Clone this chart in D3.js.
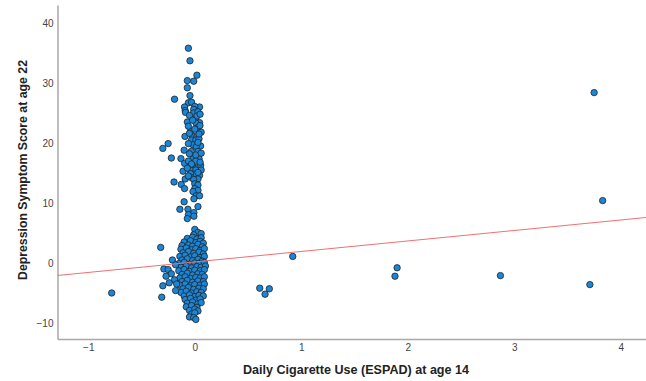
<!DOCTYPE html>
<html>
<head>
<meta charset="utf-8">
<script src="https://cdn.jsdelivr.net/npm/d3@7"></script>
<style>
  body { margin: 0; background: #fff; }
  svg { display: block; }
  .tick text { font-family: "Liberation Sans", Arial, sans-serif; font-size: 10px; fill: #444; }
  .title { font-family: "Liberation Sans", Arial, sans-serif; font-size: 13px; font-weight: bold; fill: #222; }
</style>
</head>
<body>
<svg id="chart"></svg>
<script>
// Axis ticks
const xTicks = [-1, 0, 1, 2, 3, 4];
const yTicks = [-10, 0, 10, 20, 30, 40];

// Fit line: [intercept, slope]
const fitLine = [0.172, 1.749];

// Points [cigarette use, depression score]
const outliers = [
  [-0.78, -5.0], [0.61, -4.2], [0.70, -4.3], [0.66, -5.2], [0.92, 1.1],
  [1.90, -0.8], [1.88, -2.2], [2.87, -2.1], [3.71, -3.6], [3.75, 28.4], [3.83, 10.4]
];

const upperColumn = [
  [-0.06, 35.8], [-0.045, 33.7], [0.02, 31.3], [-0.07, 30.4], [-0.01, 30.3],
  [-0.07, 29.2], [-0.045, 27.9], [-0.19, 27.3], [-0.06, 26.7], [-0.03, 26.8],
  [-0.096, 26.0], [0.045, 26.0], [0.0, 26.1], [-0.09, 25.4], [-0.01, 25.6],
  [-0.087, 25.1], [-0.012, 25.0], [0.03, 25.2], [-0.07, 23.5], [0.008, 24.0],
  [0.045, 23.4], [0.012, 23.3], [0.03, 22.6], [0.049, 22.9], [-0.039, 22.0],
  [-0.092, 21.1], [-0.017, 21.1], [0.021, 21.1], [-0.03, 20.5], [0.01, 20.5],
  [0.04, 20.7], [-0.017, 19.7], [0.055, 19.5], [0.014, 19.4], [-0.25, 19.9],
  [-0.30, 19.1], [-0.10, 18.8], [-0.033, 18.6], [0.03, 18.6], [-0.017, 17.4],
  [0.04, 17.4], [0.008, 17.0], [-0.22, 17.5], [-0.13, 17.4], [-0.096, 16.6],
  [-0.017, 16.0], [0.03, 15.9], [0.055, 16.3], [-0.04, 15.5], [0.01, 15.5],
  [0.06, 15.5], [-0.11, 15.3], [0.0, 14.8], [-0.04, 14.9], [0.045, 14.6],
  [-0.04, 14.3], [0.03, 14.0], [-0.09, 14.0], [-0.01, 13.9], [-0.195, 13.5],
  [-0.127, 13.1], [-0.096, 12.4], [0.0, 13.2], [0.03, 13.0], [0.0, 12.4],
  [0.03, 12.1], [-0.017, 11.9], [0.014, 11.2], [0.045, 11.2], [-0.008, 10.7],
  [-0.10, 10.2], [0.03, 9.4], [-0.064, 8.95], [-0.14, 8.95], [-0.008, 8.4],
  [-0.06, 8.05], [-0.008, 7.8], [-0.07, 7.4],
  [-0.05, 24.6], [0.02, 24.5], [0.05, 24.8], [-0.02, 23.8], [-0.06, 22.8],
  [0.0, 22.3], [0.06, 21.8], [-0.05, 21.6], [0.04, 21.5], [-0.06, 19.9],
  [0.03, 20.1], [-0.05, 18.2], [0.01, 18.0], [0.06, 18.3], [-0.06, 17.0],
  [0.05, 16.8], [-0.03, 16.5], [-0.07, 15.8], [0.03, 15.1], [-0.06, 14.5]
];

const lowerCluster = [
  [0.00, 5.6], [0.03, 5.1], [-0.01, 4.7], [0.06, 4.9],
  [-0.07, 4.1], [-0.02, 4.3], [0.02, 4.0], [0.06, 4.2],
  [-0.10, 3.5], [-0.04, 3.7], [0.01, 3.4], [0.05, 3.6], [0.08, 3.3],
  [-0.12, 2.9], [-0.06, 3.0], [-0.02, 2.8], [0.03, 3.1], [0.07, 2.7],
  [-0.13, 2.3], [-0.08, 2.5], [-0.03, 2.2], [0.01, 2.4], [0.05, 2.1], [0.09, 2.4],
  [-0.11, 1.7], [-0.06, 1.9], [-0.01, 1.6], [0.04, 1.8], [0.08, 1.5],
  [-0.14, 1.1], [-0.09, 1.3], [-0.04, 1.0], [0.00, 1.2], [0.05, 0.9], [0.09, 1.1],
  [-0.12, 0.5], [-0.07, 0.7], [-0.02, 0.4], [0.03, 0.6], [0.07, 0.3],
  [-0.15, -0.1], [-0.10, 0.1], [-0.05, -0.2], [0.00, 0.0], [0.04, -0.1], [0.09, 0.1],
  [-0.13, -0.7], [-0.08, -0.5], [-0.03, -0.8], [0.02, -0.6], [0.06, -0.7], [0.10, -0.5],
  [-0.15, -1.3], [-0.10, -1.1], [-0.05, -1.4], [0.00, -1.2], [0.05, -1.3], [0.09, -1.1],
  [-0.12, -1.9], [-0.07, -1.7], [-0.02, -2.0], [0.03, -1.8], [0.07, -1.9],
  [-0.14, -2.5], [-0.09, -2.3], [-0.04, -2.6], [0.01, -2.4], [0.05, -2.5], [0.09, -2.3],
  [-0.12, -3.1], [-0.07, -2.9], [-0.02, -3.2], [0.03, -3.0], [0.08, -3.1],
  [-0.14, -3.7], [-0.09, -3.5], [-0.04, -3.8], [0.00, -3.6], [0.05, -3.7], [0.09, -3.5],
  [-0.11, -4.3], [-0.06, -4.1], [-0.01, -4.4], [0.04, -4.2], [0.08, -4.3],
  [-0.13, -4.9], [-0.08, -4.7], [-0.03, -5.0], [0.02, -4.8], [0.06, -4.9],
  [-0.10, -5.5], [-0.05, -5.3], [0.00, -5.6], [0.04, -5.4], [0.08, -5.5],
  [-0.09, -6.1], [-0.04, -5.9], [0.01, -6.2], [0.05, -6.0],
  [-0.07, -6.7], [-0.02, -6.5], [0.03, -6.8], [0.06, -6.6],
  [-0.08, -7.3], [-0.03, -7.1], [0.02, -7.4],
  [-0.05, -7.9], [0.00, -7.7], [0.03, -8.0],
  [-0.03, -8.5], [0.00, -8.3],
  [-0.05, -9.0], [-0.01, -9.1], [0.01, -9.4]
];

const leftStragglers = [
  [-0.32, 2.6], [-0.21, 0.5], [-0.18, -0.3], [-0.29, -1.0], [-0.25, -1.1],
  [-0.22, -1.8], [-0.27, -2.2], [-0.19, -2.8], [-0.24, -3.3], [-0.30, -3.8],
  [-0.17, -3.5], [-0.31, -5.7], [-0.18, -4.6]
];

const points = [...upperColumn, ...lowerCluster, ...leftStragglers, ...outliers];

// Chart dimensions
const W = 646, H = 381;
const plot = { left: 57.5, right: 646, top: 5, bottom: 339 };

const svg = d3.select('#chart')
  .attr('width', W)
  .attr('height', H);

// Scales
const xScale = d3.scaleLinear()
  .domain([-1.289, 4.237])
  .range([plot.left, plot.right]);

const yScale = d3.scaleLinear()
  .domain([-12.67, 43])
  .range([plot.bottom, plot.top]);

// Axes
const xAxis = svg.append('g')
  .attr('transform', `translate(0, ${plot.bottom})`)
  .call(d3.axisBottom(xScale).tickValues(xTicks).tickSize(0).tickPadding(5).tickFormat(d3.format('d')));

const yAxis = svg.append('g')
  .attr('transform', `translate(${plot.left}, 0)`)
  .call(d3.axisLeft(yScale).tickValues(yTicks).tickSize(0).tickPadding(4).tickFormat(d3.format('d')));

[xAxis, yAxis].forEach(a => a.select('.domain')
  .attr('stroke', '#a8a8a8')
  .attr('stroke-width', 1.5));

// Points
svg.append('g')
  .selectAll('circle')
  .data(points)
  .enter()
  .append('circle')
  .attr('cx', d => xScale(d[0]))
  .attr('cy', d => yScale(d[1]))
  .attr('r', 3.2)
  .attr('fill', '#1a86d8')
  .attr('stroke', '#222')
  .attr('stroke-width', 0.8);

// Fit line across the x range
const [x0, x1] = xScale.domain();
svg.append('line')
  .attr('x1', xScale(x0))
  .attr('y1', yScale(fitLine[0] + fitLine[1] * x0))
  .attr('x2', xScale(x1))
  .attr('y2', yScale(fitLine[0] + fitLine[1] * x1))
  .attr('stroke', '#f07070')
  .attr('stroke-width', 1);

// Axis titles
svg.append('text')
  .attr('class', 'title')
  .attr('x', 356)
  .attr('y', 374)
  .attr('text-anchor', 'middle')
  .attr('textLength', 226)
  .attr('lengthAdjust', 'spacingAndGlyphs')
  .text('Daily Cigarette Use (ESPAD) at age 14');

svg.append('text')
  .attr('class', 'title')
  .attr('transform', 'translate(27, 170) rotate(-90)')
  .attr('text-anchor', 'middle')
  .attr('textLength', 220)
  .attr('lengthAdjust', 'spacingAndGlyphs')
  .text('Depression Symptom Score at age 22');
</script>
</body>
</html>
